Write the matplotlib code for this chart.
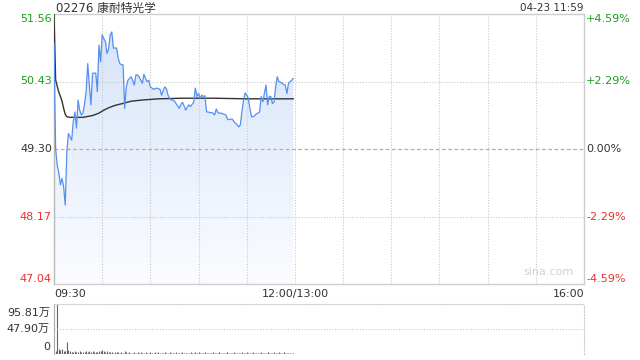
import numpy as np
import matplotlib
matplotlib.use("Agg")
import matplotlib.pyplot as plt
from matplotlib.colors import LinearSegmentedColormap

plt.rcParams['font.family'] = ['DejaVu Sans', 'Noto Sans CJK SC']

title = "02276 康耐特光学"
stamp = "04-23 11:59"
prev_close = 49.30
y_ticks = [47.04, 48.17, 49.30, 50.43, 51.56]
pct_labels = ["-4.59%", "-2.29%", "0.00%", "+2.29%", "+4.59%"]
x_tick_labels = ["09:30", "12:00/13:00", "16:00"]
x_tick_minutes = [0, 150, 330]

price = [51.07, 49.31, 49.03, 48.90, 48.70, 48.81, 48.67, 48.36, 49.26, 49.56,
         49.50, 49.45, 49.76, 49.92, 49.65, 50.12, 49.95, 49.87, 49.90, 50.05,
         50.26, 50.73, 50.37, 50.04, 50.57, 50.57, 50.57, 50.26, 51.04, 50.76,
         51.21, 51.15, 51.10, 50.90, 50.98, 51.21, 51.26, 50.99, 50.99, 50.99,
         50.82, 50.73, 50.71, 50.71, 49.98, 50.34, 50.45, 50.48, 50.51, 50.45,
         50.37, 50.54, 50.54, 50.51, 50.45, 50.40, 50.55, 50.48, 50.43, 50.45,
         50.34, 50.32, 50.30, 50.31, 50.32, 50.31, 50.30, 50.20, 50.28, 50.34,
         50.31, 50.20, 50.15, 50.12, 50.12, 50.10, 50.06, 50.02, 49.98, 50.05,
         50.08, 50.02, 49.95, 50.00, 50.04, 50.01, 50.05, 50.08, 50.32, 50.18,
         50.23, 50.15, 50.20, 50.18, 50.19, 49.92, 49.92, 49.91, 49.91, 49.90,
         49.87, 49.97, 49.91, 49.90, 49.90, 49.89, 49.88, 49.87, 49.80, 49.79,
         49.80, 49.80, 49.76, 49.73, 49.71, 49.67, 49.70, 49.92, 50.12, 50.24,
         50.20, 50.15, 49.97, 49.84, 49.84, 49.86, 49.89, 49.90, 49.92, 50.18,
         50.09, 50.23, 50.37, 50.04, 50.18, 50.18, 50.06, 50.09, 50.34, 50.51,
         50.43, 50.42, 50.40, 50.38, 50.37, 50.23, 50.40, 50.43, 50.45, 50.48]

avg_minutes = [0, 1, 2, 3, 4, 5, 6, 7, 8, 10, 18, 24, 28, 31, 34, 38, 44, 48, 55, 65, 80, 100, 120, 149]
avg_price = [51.56, 50.46, 50.35, 50.25, 50.18, 50.10, 49.98, 49.88, 49.84, 49.83, 49.83, 49.86,
             49.90, 49.95, 49.99, 50.03, 50.07, 50.10, 50.12, 50.14, 50.15, 50.15, 50.14, 50.14]

volume = [8, 6, 95.81, 10, 7, 9, 6, 5, 23, 7, 5, 4, 3, 5, 4, 3, 6, 4, 3, 4,
          5, 3, 6, 4, 5, 3, 4, 3, 5, 6, 7, 5, 4, 6, 3, 4, 3, 2, 3, 4,
          3, 2, 3, 2, 6, 3, 2, 3, 2, 2, 3, 2, 4, 2, 3, 2, 2, 3, 2, 2,
          3, 2, 2, 3, 2, 3, 2, 2, 2, 3, 2, 2, 3, 2, 2, 2, 3, 2, 2, 2,
          3, 2, 2, 2, 2, 3, 2, 2, 3, 2, 4, 2, 2, 2, 3, 2, 2, 2, 2, 3,
          2, 2, 2, 3, 2, 2, 2, 2, 3, 2, 2, 2, 3, 2, 2, 2, 2, 3, 2, 2,
          4, 2, 2, 2, 3, 2, 2, 2, 2, 3, 2, 2, 2, 3, 2, 2, 2, 4, 2, 2,
          3, 2, 2, 3, 2, 2, 2, 2, 2, 2]
vol_max = 95.81
vol_labels = ["0", "47.90万", "95.81万"]

GREEN = "#1a9f1a"
RED = "#e8322f"
DARK = "#333333"
GRID = "#c8c8c8"

fig = plt.figure(figsize=(6.4, 3.6), dpi=100)
ax = fig.add_axes([54/640, 76/360, 530/640, 270/360])
axv = fig.add_axes([54/640, 6/360, 530/640, 50/360])

t = np.arange(len(price))
ymin, ymax = y_ticks[0], y_ticks[-1]
ax.set_xlim(0, 330)
ax.set_ylim(ymin, ymax)

# gradient fill under the price line
cmap = LinearSegmentedColormap.from_list("g", ["#fbfcff", "#d5e3f8"])
grad = np.linspace(0, 1, 256).reshape(-1, 1)
im = ax.imshow(grad, extent=[0, t[-1], ymin, ymax], origin="lower", cmap=cmap,
               aspect="auto", zorder=1)
poly = ax.fill_between(t, price, ymin, color="none", lw=0)
clip_path = poly.get_paths()[0]
im.set_clip_path(clip_path, transform=ax.transData)

# grid
for m in range(30, 330, 30):
    ax.axvline(m, color=GRID, lw=0.8, ls=(0, (1, 1.5)), zorder=2)
for v in (y_ticks[1], y_ticks[3]):
    ax.axhline(v, color=GRID, lw=0.8, ls=(0, (1, 1.5)), zorder=2)
ax.axhline(prev_close, color="#b0b0b0", lw=0.9, ls=(0, (3, 2)), zorder=2)

ax.plot(t, price, color="#5590f0", lw=0.9, zorder=4)
ax.plot(avg_minutes, avg_price, color="#333333", lw=1.0, zorder=3)

for s in ax.spines.values():
    s.set_color("#cccccc")
    s.set_linewidth(1.0)
ax.spines["left"].set_color("#b8b8b8")
ax.set_xticks([])
ax.set_yticks([])

colors = [RED, RED, DARK, GREEN, GREEN]
vas = ["bottom", "center", "center", "center", "top"]
for v, c, va in zip(y_ticks, colors, vas):
    ax.text(-0.004, v, f"{v:.2f}", transform=ax.get_yaxis_transform(), ha="right",
            va=va, fontsize=8, color=c)
for v, lab, c, va in zip(y_ticks, pct_labels, colors, vas):
    ax.text(1.004, v, lab, transform=ax.get_yaxis_transform(), ha="left",
            va=va, fontsize=8, color=c)

aligns = ["left", "center", "right"]
for m, lab, a in zip(x_tick_minutes, x_tick_labels, aligns):
    ax.text(m, -0.018, lab, transform=ax.get_xaxis_transform(), ha=a, va="top",
            fontsize=8, color=DARK)

fig.text(56/640, 1 - 8/360, title, ha="left", va="center", fontsize=8.5, color=DARK,
         family=["DejaVu Sans", "Noto Sans CJK SC"])
fig.text(584/640, 1 - 8/360, stamp, ha="right", va="center", fontsize=7.5, color=DARK)
ax.text(0.98, 0.025, "sina.com", transform=ax.transAxes, ha="right", va="bottom",
        fontsize=8, color="#d0d0d0")

# volume panel
vt = np.arange(len(volume))
axv.set_xlim(0, 330)
axv.set_ylim(0, vol_max)
axv.vlines(vt, 0, volume, color="#666666", lw=0.8)
axv.axhline(vol_max / 2, color=GRID, lw=0.8, ls=(0, (1, 1.5)))
for k, s in axv.spines.items():
    s.set_color("#cccccc")
    s.set_linewidth(0.8)
axv.spines["top"].set_linestyle((0, (1, 1.5)))
axv.spines["right"].set_linestyle((0, (1, 1.5)))
axv.spines["bottom"].set_visible(False)
axv.spines["left"].set_color("#aaaaaa")
axv.set_xticks([])
axv.set_yticks([])
vol_pos = [0.14, 0.5, 0.82]
for p, lab in zip(vol_pos, vol_labels):
    axv.text(-0.008, p, lab, transform=axv.transAxes, ha="right", va="center",
             fontsize=8, color=DARK, family=["DejaVu Sans", "Noto Sans CJK SC"])

fig.savefig("out.png", dpi=100)
